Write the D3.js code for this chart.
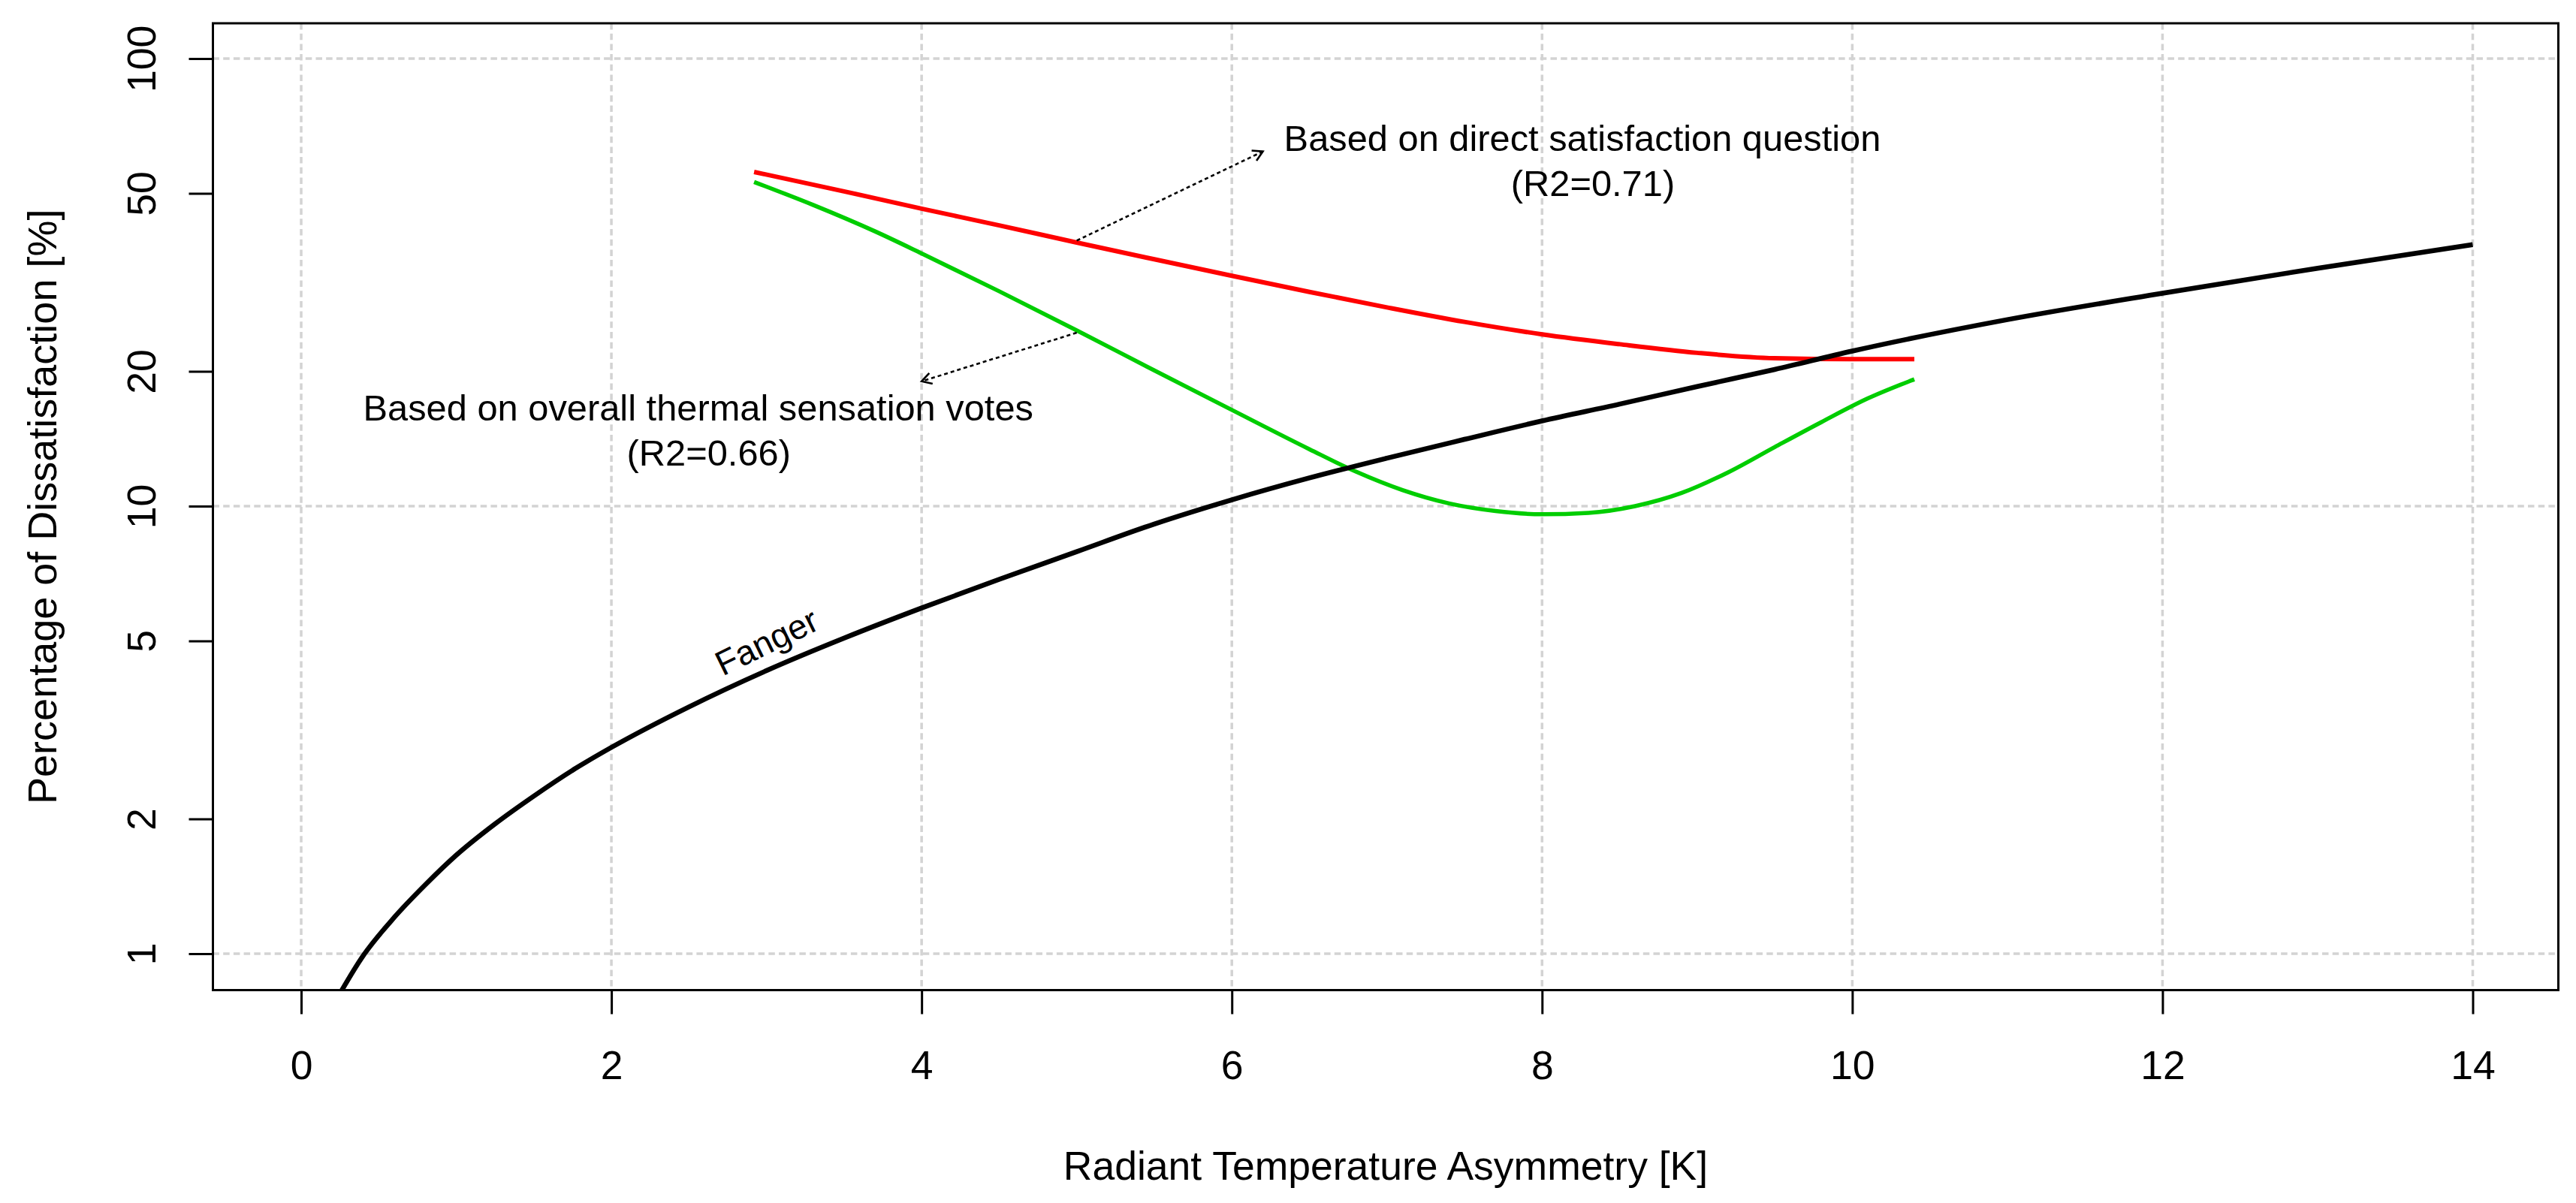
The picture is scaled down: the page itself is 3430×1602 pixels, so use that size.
<!DOCTYPE html>
<html><head><meta charset="utf-8">
<script src="https://cdn.jsdelivr.net/npm/d3@7"></script>
<style>
html,body{margin:0;padding:0;background:#fff;}
svg{display:block;background:#fff;}
text{font-family:"Liberation Sans",Arial,Helvetica,sans-serif;fill:#000;}
</style></head><body>
<svg id="chart" width="3430" height="1602"></svg>
<script>
// ---------------- data ----------------
const xTicks = [0, 2, 4, 6, 8, 10, 12, 14];
const yTicks = [1, 2, 5, 10, 20, 50, 100];
const yGridValues = [1, 10, 100];

// Fanger curve (black)
const fangerX = [0.2, 0.4, 0.6, 0.8, 1.0, 1.25, 1.5, 1.75, 2.0, 2.5, 3.0, 3.5, 4.0, 4.5, 5.0, 5.5, 6.0, 6.5, 7.0, 7.5, 8.0, 8.5, 9.0, 9.5, 10.0, 11.0, 12.0, 13.0, 14.0];
const fangerY = [0.76, 0.99, 1.205, 1.425, 1.66, 1.95, 2.25, 2.57, 2.89, 3.56, 4.29, 5.07, 5.92, 6.86, 7.91, 9.12, 10.33, 11.56, 12.8, 14.1, 15.5, 16.9, 18.5, 20.2, 22.2, 26.1, 29.9, 34.0, 38.4];

// Based on direct satisfaction question (red)
const directX = [2.92, 3.5, 4.0, 4.5, 5.0, 5.5, 6.0, 6.5, 7.0, 7.5, 8.0, 8.5, 9.0, 9.5, 10.0, 10.4];
const directY = [55.8, 50.5, 46.2, 42.4, 38.8, 35.6, 32.7, 30.1, 27.8, 25.8, 24.2, 23.0, 22.0, 21.4, 21.3, 21.3];

// Based on overall thermal sensation votes (green)
const tsvX = [2.92, 3.3, 3.7, 4.0, 4.5, 5.0, 5.5, 6.0, 6.5, 6.8, 7.1, 7.4, 7.7, 8.0, 8.3, 8.6, 8.9, 9.2, 9.5, 9.8, 10.1, 10.4];
const tsvY = [53.0, 47.1, 41.1, 36.7, 30.2, 24.7, 20.1, 16.4, 13.4, 11.94, 10.86, 10.14, 9.75, 9.59, 9.66, 10.0, 10.7, 11.9, 13.55, 15.4, 17.4, 19.2];

const xTitle = "Radiant Temperature Asymmetry [K]";
const yTitle = "Percentage of Dissatisfaction [%]";
const annotationText = [
  ["Based on direct satisfaction question", "(R2=0.71)"],
  ["Based on overall thermal sensation votes", "(R2=0.66)"]
];
const annotationX = [8.26, 2.56];
const annotationY = [62.1, 15.55];
const fangerLabel = "Fanger";
const fangerLabelX = 3.0, fangerLabelY = 4.98;
const arrowFromX = [5.0, 5.0], arrowFromY = [39.2, 24.4];
const arrowToX = [6.2, 4.0], arrowToY = [62.0, 19.0];

// ---------------- layout ----------------
const pLeft = 283.5, pRight = 3406.5, pTop = 31, pBottom = 1318.5;
const svg = d3.select("#chart");

const x = d3.scaleLinear().domain([-0.569, 14.552]).range([pLeft, pRight]);
const y = d3.scaleLog().domain([0.829, 119.9]).range([pBottom, pTop]);

svg.append("rect").attr("width", 3430).attr("height", 1602).attr("fill", "#fff");

svg.append("defs").append("clipPath").attr("id", "plotclip")
  .append("rect").attr("x", pLeft).attr("y", pTop).attr("width", pRight - pLeft).attr("height", pBottom - pTop);

// grid
const grid = svg.append("g").attr("stroke", "#d3d3d3").attr("stroke-width", 3.5).attr("stroke-dasharray", "8.5,5.2");
grid.selectAll("line.v").data(xTicks).join("line").attr("class", "v")
  .attr("x1", d => x(d)).attr("x2", d => x(d)).attr("y1", pTop).attr("y2", pBottom);
grid.selectAll("line.h").data(yGridValues).join("line").attr("class", "h")
  .attr("y1", d => y(d)).attr("y2", d => y(d)).attr("x1", pLeft).attr("x2", pRight);

// curves
const plot = svg.append("g").attr("clip-path", "url(#plotclip)");
const line = d3.line().x(d => x(d[0])).y(d => y(d[1])).curve(d3.curveMonotoneX);
const series = [
  {xs: directX, ys: directY, color: "#ff0000", w: 6},
  {xs: tsvX, ys: tsvY, color: "#00cd00", w: 5.5},
  {xs: fangerX, ys: fangerY, color: "#000000", w: 6.5}
];
series.forEach(s => {
  plot.append("path").datum(s.xs.map((v, i) => [v, s.ys[i]]))
    .attr("d", line).attr("fill", "none").attr("stroke", s.color)
    .attr("stroke-width", s.w).attr("stroke-linejoin", "round");
});

// box
svg.append("rect").attr("x", pLeft).attr("y", pTop).attr("width", pRight - pLeft).attr("height", pBottom - pTop)
  .attr("fill", "none").attr("stroke", "#000").attr("stroke-width", 3);

// axes
const xAxis = svg.append("g").attr("transform", `translate(0,${pBottom})`)
  .call(d3.axisBottom(x).tickValues(xTicks).tickSize(32).tickFormat(d3.format("d")));
xAxis.select(".domain").remove();
xAxis.selectAll(".tick line").attr("stroke", "#000").attr("stroke-width", 3);
xAxis.selectAll(".tick text").attr("y", 1437 - pBottom).attr("dy", null)
  .attr("font-size", 53.5).attr("font-family", "Liberation Sans, Arial, sans-serif").attr("fill", "#000");

const yAxis = svg.append("g").attr("transform", `translate(${pLeft},0)`)
  .call(d3.axisLeft(y).tickValues(yTicks).tickSize(32).tickFormat(d3.format("d")));
yAxis.select(".domain").remove();
yAxis.selectAll(".tick line").attr("stroke", "#000").attr("stroke-width", 3);
yAxis.selectAll(".tick text").attr("x", null).attr("dy", null).attr("text-anchor", "middle")
  .attr("transform", `translate(${207 - pLeft},0) rotate(-90)`)
  .attr("font-size", 53.5).attr("font-family", "Liberation Sans, Arial, sans-serif").attr("fill", "#000");

// titles
svg.append("text").attr("x", (pLeft + pRight) / 2).attr("y", 1571).attr("text-anchor", "middle")
  .attr("font-size", 53.5).text(xTitle);
svg.append("text").attr("transform", `translate(75,${(pTop + pBottom) / 2}) rotate(-90)`)
  .attr("text-anchor", "middle").attr("font-size", 54).text(yTitle);

// annotations
annotationText.forEach((lines, i) => {
  const t = svg.append("text").attr("text-anchor", "middle").attr("font-size", 48.8);
  t.append("tspan").attr("x", x(annotationX[i])).attr("y", y(annotationY[i])).text(lines[0]);
  t.append("tspan").attr("x", x(annotationX[i]) + 14).attr("y", y(annotationY[i]) + 60).text(lines[1]);
});

// arrows
const arrows = svg.append("g").attr("stroke", "#000").attr("fill", "none");
arrowFromX.forEach((_, i) => {
  const x0 = x(arrowFromX[i]), y0 = y(arrowFromY[i]);
  const x1 = x(arrowToX[i]), y1 = y(arrowToY[i]);
  arrows.append("line").attr("x1", x0).attr("y1", y0).attr("x2", x1).attr("y2", y1)
    .attr("stroke-width", 2.6).attr("stroke-dasharray", "5,4");
  const ang = Math.atan2(y1 - y0, x1 - x0);
  const L = 15, a = Math.PI / 6;
  const p1 = [x1 - L * Math.cos(ang - a), y1 - L * Math.sin(ang - a)];
  const p2 = [x1 - L * Math.cos(ang + a), y1 - L * Math.sin(ang + a)];
  arrows.append("path").attr("d", `M${p1[0]},${p1[1]}L${x1},${y1}L${p2[0]},${p2[1]}`)
    .attr("stroke-width", 2.6);
});

// Fanger label
svg.append("text")
  .attr("transform", `translate(${x(fangerLabelX)},${y(fangerLabelY)}) rotate(-26)`)
  .attr("text-anchor", "middle").attr("dy", "0.35em").attr("font-size", 46).text(fangerLabel);
</script>
</body></html>
